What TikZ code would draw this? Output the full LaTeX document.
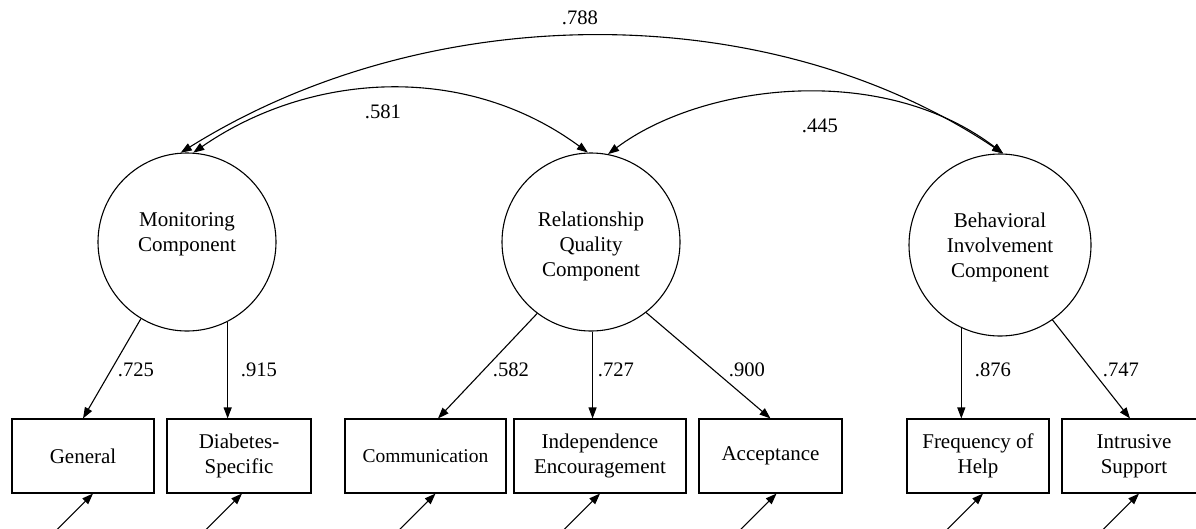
\documentclass[tikz,border=0pt]{standalone}
\usepackage{fontspec}
\setmainfont{Liberation Serif}
\usetikzlibrary{arrows.meta,calc}
\begin{document}
\begin{tikzpicture}[x=1pt,y=-1pt,
  lat/.style={draw, circle, minimum size=178pt, inner sep=0pt, line width=1.1pt},
  obs/.style={draw, rectangle, minimum height=74pt, inner sep=0pt, line width=1.1pt, align=center, font=\fontsize{21}{25}\selectfont},
  ltxt/.style={align=center, font=\fontsize{21}{25}\selectfont, inner sep=0pt},
  num/.style={font=\fontsize{20.6}{24}\selectfont, inner sep=0pt},
  load/.style={line width=1.1pt, -{Triangle[length=11pt,width=8pt]}},
  corr/.style={line width=1.1pt, {Triangle[length=11pt,width=8pt]}-{Triangle[length=11pt,width=8pt]}},
]
\useasboundingbox (0,0) rectangle (1196,528);
\clip (0,0) rectangle (1196,528);

% latent factors
\node[lat] (mon) at (187,242) {};
\node[lat] (rel) at (591,242) {};
\node[lat, minimum size=182pt] (beh) at (1000,245) {};
\node[ltxt] (mont) at (187,234.4) {Monitoring\\Component};
\node[ltxt] (relt) at (591,246.9) {Relationship\\Quality\\Component};
\node[ltxt] (beht) at (1000,247.9) {Behavioral\\Involvement\\Component};

% indicators
\node[obs, minimum width=142pt] (gen) at (83,456) {General};
\node[obs, minimum width=144pt] (dia) at (239,456) {Diabetes-\\Specific};
\node[obs, minimum width=161pt, font=\fontsize{19.5}{25}\selectfont] (com) at (425.5,456) {Communication};
\node[obs, minimum width=172pt] (ind) at (600,456) {Independence\\Encouragement};
\node[obs, minimum width=143pt] (acc) at (770.5,456) {Acceptance};
\node[obs, minimum width=142pt] (fre) at (978,456) {Frequency of\\Help};
\node[obs, minimum width=144pt] (int) at (1134,456) {Intrusive\\Support};

% loadings
\draw[load] (mon.239) -- (gen.north);
\draw[load] (mon.297) -- (mon.297 |- dia.north);
\draw[load] (rel.233) -- ($(com.north)+(12.5,0)$);
\draw[load] (rel.271) -- (rel.271 |- ind.north);
\draw[load] (rel.308) -- (acc.north);
\draw[load] (beh.245) -- (beh.245 |- fre.north);
\draw[load] (beh.305) -- ($(int.north)+(-4,0)$);

% correlations
\draw[corr] (mon.94.5) .. controls (430,-3) and (770,-3) .. (beh.88);
\draw[corr] (mon.86.8) .. controls (310,72) and (465,62) .. (rel.92.6);
\draw[corr] (rel.79.6) .. controls (700,85) and (880,60) .. (beh.88);

% labels
\node[num] (l788) at (580,18) {.788};
\node[num] (l581) at (383,112) {.581};
\node[num] (l445) at (820,126) {.445};
\node[num] (l725) at (136,370) {.725};
\node[num] (l915) at (259,370) {.915};
\node[num] (l582) at (511,370) {.582};
\node[num] (l727) at (616,370) {.727};
\node[num] (l900) at (747,370) {.900};
\node[num] (l876) at (993,370) {.876};
\node[num] (l747) at (1121,370) {.747};

% error terms
\coordinate (e1) at ($(gen.south)+(10,0)+(-60,60)$);
\coordinate (e2) at ($(dia.south)+(3,0)+(-60,60)$);
\coordinate (e3) at ($(com.south)+(10,0)+(-60,60)$);
\coordinate (e4) at ($(ind.south)+(0,0)+(-60,60)$);
\coordinate (e5) at ($(acc.south)+(6,0)+(-60,60)$);
\coordinate (e6) at ($(fre.south)+(5,0)+(-60,60)$);
\coordinate (e7) at ($(int.south)+(5,0)+(-60,60)$);
\draw[load] (e1) -- ($(gen.south)+(10,0)$);
\draw[load] (e2) -- ($(dia.south)+(3,0)$);
\draw[load] (e3) -- ($(com.south)+(10,0)$);
\draw[load] (e4) -- (ind.south);
\draw[load] (e5) -- ($(acc.south)+(6,0)$);
\draw[load] (e6) -- ($(fre.south)+(5,0)$);
\draw[load] (e7) -- ($(int.south)+(5,0)$);
\end{tikzpicture}
\end{document}
